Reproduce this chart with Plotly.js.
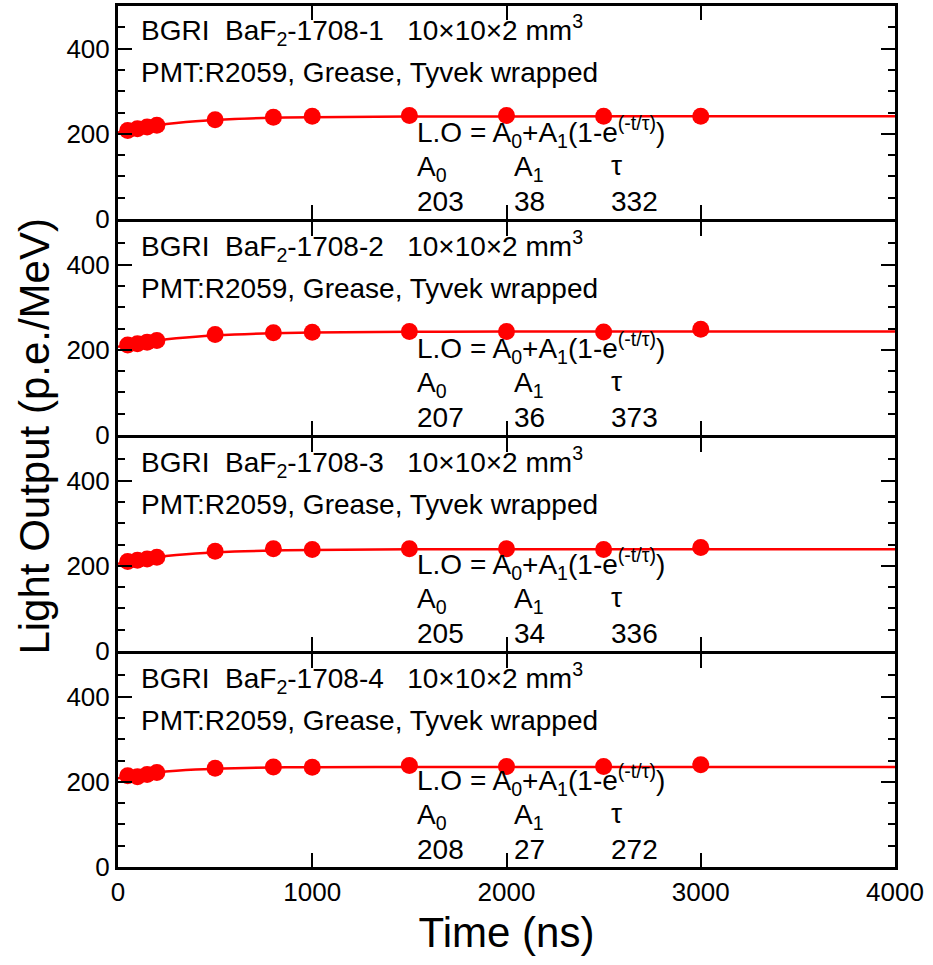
<!DOCTYPE html>
<html>
<head>
<meta charset="utf-8">
<script src="https://cdn.plot.ly/plotly-3.0.1.min.js"></script>
<style>html,body{margin:0;padding:0;background:#fff;}#chart{width:933px;height:965px;}</style>
</head>
<body>
<div id="chart"></div>
<script>
// Measured data (time in ns, light output in p.e./MeV)
const times = [50, 100, 150, 200, 500, 800, 1000, 1500, 2000, 2500, 3000];
const lo1 = [208, 212, 216, 220, 233, 239, 241, 243, 243, 241, 241];
const lo2 = [211, 214, 218, 222, 236, 240, 241, 243, 243, 242, 248];
const lo3 = [210, 213, 216, 220, 234, 240, 238, 240, 240, 238, 243];
const lo4 = [214, 212, 217, 222, 232, 235, 234, 238, 236, 236, 240];

// Fit curves
const fitT = [0, 50, 100, 150, 200, 300, 400, 600, 800, 1000, 1500, 2000, 3000, 4000];
const fit1 = [203, 208.3, 212.9, 216.8, 220.2, 225.6, 229.6, 234.8, 237.6, 239.1, 240.6, 240.9, 241, 241];
const fit2 = [207, 211.5, 215.5, 218.9, 221.9, 226.9, 230.7, 235.8, 238.8, 240.5, 242.4, 242.8, 243, 243];
const fit3 = [205, 209.7, 213.7, 217.2, 220.3, 225.1, 228.7, 233.3, 235.9, 237.3, 238.6, 238.9, 239, 239];
const fit4 = [208, 212.5, 216.3, 219.4, 222.1, 226.0, 228.8, 232.0, 233.6, 234.3, 234.9, 235, 235, 235];

// Text
const samples = ["1708-1", "1708-2", "1708-3", "1708-4"];
const paramA0 = ["203", "207", "205", "208"];
const paramA1 = ["38", "36", "34", "27"];
const paramTau = ["332", "373", "336", "272"];
const xTitle = "Time (ns)";
const yTitle = "Light Output (p.e./MeV)";

const series = [lo1, lo2, lo3, lo4];
const fits = [fit1, fit2, fit3, fit4];

const FONT = "Arial, 'Liberation Sans', sans-serif";
const RED = "#ff0000";
const LW = 3;
const traces = [];
const layout = {
  width: 933, height: 965,
  margin: {l: 118, r: 38, t: 6, b: 98},
  paper_bgcolor: "#fff", plot_bgcolor: "#fff",
  showlegend: false,
  font: {family: FONT, color: "#000", size: 26},
  annotations: []
};

// panels separated by exactly one line width so the shared borders coincide
const plotH = 965 - 6 - 98;
const g = LW / plotH;
const panelH = (1 - 3 * g) / 4;
const domains = [];
for (let i = 0; i < 4; i++) {
  const top = 1 - i * (panelH + g);
  domains.push([top - panelH, top]);
}

for (let i = 0; i < 4; i++) {
  const n = i + 1;
  const xa = n === 1 ? "x" : "x" + n;
  const ya = n === 1 ? "y" : "y" + n;
  traces.push({
    x: fitT, y: fits[i], xaxis: xa, yaxis: ya, type: "scatter", mode: "lines",
    line: {color: RED, width: 2.5, shape: "spline"}, hoverinfo: "skip"
  });
  traces.push({
    x: times, y: series[i], xaxis: xa, yaxis: ya, type: "scatter", mode: "markers",
    marker: {color: RED, size: 17, line: {width: 0}}
  });
  const xKey = n === 1 ? "xaxis" : "xaxis" + n;
  const yKey = n === 1 ? "yaxis" : "yaxis" + n;
  layout[xKey] = {
    anchor: ya, range: [0, 4000], dtick: 1000, tick0: 0,
    ticks: "inside", ticklen: 14, tickwidth: 2, tickcolor: "#000",
    showline: true, linewidth: LW, linecolor: "#000", mirror: "ticks",
    showgrid: false, zeroline: false,
    showticklabels: n === 4,
    tickfont: {family: FONT, size: 26, color: "#000"}
  };
  if (n !== 1) layout[xKey].matches = "x";
  if (n === 4) layout[xKey].title = {text: xTitle, font: {family: FONT, size: 42, color: "#000"}, standoff: 12};
  layout[yKey] = {
    domain: domains[i], range: [0, 500], dtick: 200, tick0: 0,
    ticks: "inside", ticklen: 14, tickwidth: 2, tickcolor: "#000",
    minor: {dtick: 50, ticks: "inside", ticklen: 7, tickwidth: 2, tickcolor: "#000"},
    showline: true, linewidth: LW, linecolor: "#000", mirror: "ticks",
    showgrid: false, zeroline: false,
    tickfont: {family: FONT, size: 26, color: "#000"}
  };

  const yref = (n === 1 ? "y" : "y" + n) + " domain";
  const tf = {family: FONT, size: 28, color: "#000"};
  const ann = (x, y, text) => ({
    xref: "paper", yref: yref, x: x, y: y, xanchor: "left", yanchor: "middle",
    text: text, showarrow: false, font: tf
  });
  layout.annotations.push(ann(0.027, 0.885,
    "BGRI&nbsp;&nbsp;BaF<sub>2</sub>-" + samples[i] + "&nbsp;&nbsp;&nbsp;10×10×2 mm<sup>3</sup>"));
  layout.annotations.push(ann(0.027, 0.69, "PMT:R2059, Grease, Tyvek wrapped"));
  layout.annotations.push(ann(0.382, 0.41, "L.O = A<sub>0</sub>+A<sub>1</sub>(1-e<sup>(-t/τ)</sup>)"));
  layout.annotations.push(ann(0.382, 0.235, "A<sub>0</sub>"));
  layout.annotations.push(ann(0.507, 0.235, "A<sub>1</sub>"));
  layout.annotations.push(ann(0.632, 0.25, "τ"));
  layout.annotations.push(ann(0.382, 0.08, paramA0[i]));
  layout.annotations.push(ann(0.507, 0.08, paramA1[i]));
  layout.annotations.push(ann(0.632, 0.08, paramTau[i]));
}

layout.annotations.push({
  xref: "paper", yref: "paper", x: -0.108, y: 0.5, xanchor: "center", yanchor: "middle",
  text: yTitle, textangle: -90, showarrow: false,
  font: {family: FONT, size: 42, color: "#000"}
});

Plotly.newPlot("chart", traces, layout, {displayModeBar: false, staticPlot: true});
</script>
</body>
</html>
